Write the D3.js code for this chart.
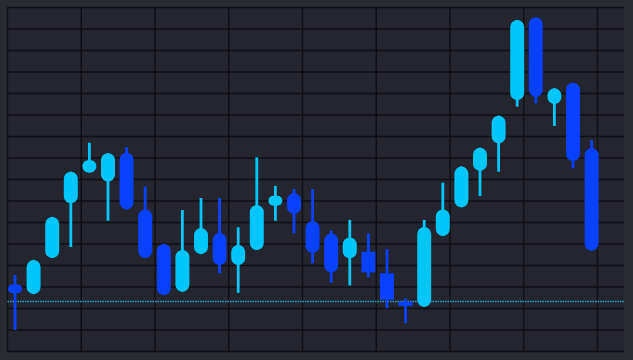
<!DOCTYPE html>
<html>
<head>
<meta charset="utf-8">
<script src="https://cdn.jsdelivr.net/npm/d3@7/dist/d3.min.js"></script>
<style>
  html, body { margin: 0; padding: 0; background: #2a2a33; }
  svg { display: block; }
</style>
</head>
<body>
<svg id="chart" width="633" height="360"></svg>
<script>
// ---- data (price units; no axis labels shown in the original) ----
const opens  = [31.2, 26.7, 43.5, 68.9, 83.2, 79.0, 92.5, 66.1, 50.0, 27.8, 45.3, 55.1, 40.2, 47.2, 67.8, 73.6,
                60.7, 54.9, 43.3, 46.4, 36.4, 23.2, 20.8, 53.7, 67.1, 84.0, 96.8, 117.0, 155.4, 115.1, 125.0, 94.5];
const closes = [27.2, 42.6, 62.6, 83.6, 89.1, 92.2, 66.1, 43.5, 26.3, 47.2, 57.4, 40.2, 49.5, 68.1, 72.5, 64.0,
                45.8, 36.7, 53.0, 36.8, 24.1, 21.2, 57.9, 66.1, 86.0, 94.8, 109.7, 154.2, 118.5, 122.4, 88.6, 46.9];
const highs  = [35.6, 42.6, 62.6, 83.6, 97.1, 92.2, 95.0, 76.7, 50.0, 65.8, 71.4, 71.4, 57.8, 90.3, 77.0, 75.6,
                75.6, 56.2, 61.2, 55.0, 47.7, 24.7, 61.2, 78.5, 86.0, 94.8, 109.7, 154.2, 155.4, 122.4, 125.0, 98.4];
const lows   = [10.0, 26.7, 43.5, 48.6, 83.2, 60.8, 66.1, 43.5, 26.3, 27.8, 45.3, 36.4, 27.3, 47.2, 60.8, 55.0,
                41.0, 32.0, 30.7, 34.5, 20.1, 13.1, 20.8, 53.7, 67.1, 72.3, 83.6, 113.9, 115.4, 104.9, 85.2, 46.9];
const lastPrice = 23.2;
const yDomain = [0, 160];
const yGridStep = 10;
const xGridCount = 9;

// ---- layout ----
const W = 633, H = 360;
const plot = { left: 7.5, top: 7.5, right: 624, bottom: 351.5 };
const LIGHT = "#00c6fc", DARK = "#0842ff";
const squareBodies = new Set([19, 20, 21]);

const svg = d3.select("#chart");
svg.append("rect").attr("width", W).attr("height", H).attr("fill", "#2a2a33");
svg.append("rect")
  .attr("x", plot.left).attr("y", plot.top)
  .attr("width", plot.right - plot.left).attr("height", plot.bottom - plot.top)
  .attr("fill", "#25252f");

const n = opens.length;
const x = d3.scaleBand().domain(d3.range(n)).range([5.7, 600.9]).paddingInner(0.25).paddingOuter(0.125);
const y = d3.scaleLinear().domain(yDomain).range([plot.bottom, plot.top]);
const gx = d3.scaleLinear().domain([0, 1]).range([plot.left, plot.left + 73.75]);

// grid
const grid = svg.append("g").attr("stroke", "#0f0f14").attr("stroke-width", 1.4);
grid.selectAll("line.h").data(d3.range(yDomain[0], yDomain[1] + 1, yGridStep)).join("line")
  .attr("class", "h")
  .attr("x1", plot.left).attr("x2", plot.right)
  .attr("y1", d => y(d)).attr("y2", d => y(d));
grid.selectAll("line.v").data(d3.range(xGridCount)).join("line")
  .attr("class", "v")
  .attr("x1", d => gx(d)).attr("x2", d => gx(d))
  .attr("y1", plot.top).attr("y2", plot.bottom);

// last price dotted line
svg.append("line")
  .attr("x1", plot.left).attr("x2", plot.right)
  .attr("y1", y(lastPrice)).attr("y2", y(lastPrice))
  .attr("stroke", "#22abd0").attr("stroke-width", 1.5)
  .attr("stroke-dasharray", "1.5,1");

const data = d3.range(n).map(i => ({ i, o: opens[i], c: closes[i], h: highs[i], l: lows[i] }));
const bw = x.bandwidth();
const cx = i => x(i) + bw / 2;
const col = d => d.c >= d.o ? LIGHT : DARK;

const g = svg.append("g");
g.selectAll("line.wick").data(data).join("line")
  .attr("class", "wick")
  .attr("x1", d => cx(d.i)).attr("x2", d => cx(d.i))
  .attr("y1", d => y(d.h)).attr("y2", d => y(d.l))
  .attr("stroke", col).attr("stroke-width", 2.8);

g.selectAll("rect.body").data(data).join("rect")
  .attr("class", "body")
  .attr("x", d => x(d.i))
  .attr("width", bw)
  .attr("y", d => y(Math.max(d.o, d.c)))
  .attr("height", d => Math.max(1, Math.abs(y(d.o) - y(d.c))))
  .attr("rx", d => squareBodies.has(d.i) ? 0 : Math.min(bw / 2, Math.abs(y(d.o) - y(d.c)) / 2))
  .attr("fill", col);
</script>
</body>
</html>
